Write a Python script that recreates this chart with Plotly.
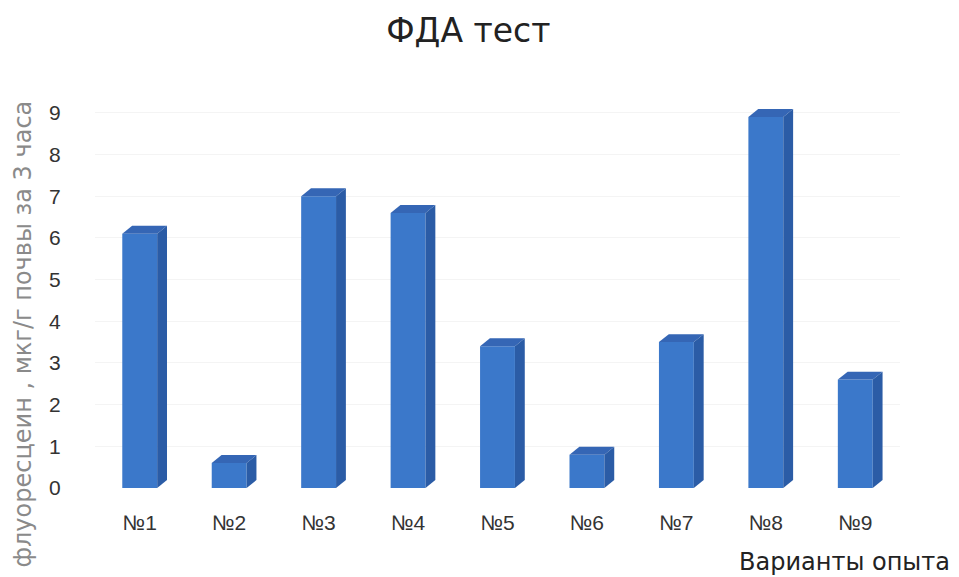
import plotly.graph_objects as go

categories = ["№1", "№2", "№3", "№4", "№5", "№6", "№7", "№8", "№9"]
values = [6.1, 0.6, 7.0, 6.6, 3.4, 0.8, 3.5, 8.9, 2.6]
y_ticks = [0, 1, 2, 3, 4, 5, 6, 7, 8, 9]

FRONT = "#3B78CA"
SIDE = "#2B5CA6"
TOP = "#3566B5"
BAR_W = 0.39
DX = 0.11   # depth offset in category units
DY = 0.19   # depth offset in value units

fig = go.Figure()
fig.add_trace(go.Bar(
    x=categories, y=values, width=BAR_W,
    marker=dict(color=FRONT, line=dict(width=0)),
    hoverinfo="x+y", showlegend=False,
))

shapes = []
for i, v in enumerate(values):
    x0 = i - BAR_W / 2
    x1 = i + BAR_W / 2
    shapes.append(dict(
        type="path", xref="x", yref="y", layer="above",
        path=f"M {x0},{v} L {x1},{v} L {x1+DX},{v+DY} L {x0+DX},{v+DY} Z",
        fillcolor=TOP, line=dict(width=0),
    ))
    shapes.append(dict(
        type="path", xref="x", yref="y", layer="above",
        path=f"M {x1},0 L {x1},{v} L {x1+DX},{v+DY} L {x1+DX},{DY} Z",
        fillcolor=SIDE, line=dict(width=0),
    ))

fig.update_layout(
    width=951, height=569,
    margin=dict(l=87, r=59, t=84, b=89),
    paper_bgcolor="white", plot_bgcolor="white",
    font=dict(family="Liberation Sans, Arial, sans-serif", color="#333333"),
    title=dict(text="ФДА тест", x=0.484, xanchor="center", y=0.961, yanchor="middle",
               font=dict(family="DejaVu Sans, sans-serif", size=33, color="#222222")),
    shapes=shapes,
    bargap=0.6,
    xaxis=dict(
        type="category", range=[-0.5, 8.5],
        showgrid=False, zeroline=False, showline=False,
        ticks="outside", ticklen=16, tickcolor="rgba(0,0,0,0)",
        tickfont=dict(size=21, color="#333333"),
    ),
    yaxis=dict(
        range=[0, 9.5], tickvals=y_ticks,
        showgrid=True, gridcolor="#F4F4F4", gridwidth=1,
        zeroline=False, showline=False,
        ticks="outside", ticklen=29, tickcolor="rgba(0,0,0,0)",
        tickfont=dict(size=21, color="#333333"),
    ),
    annotations=[
        dict(text="флуоресцеин , мкг/г почвы за 3 часа", xref="paper", yref="paper",
             x=-0.0895, y=0.39, textangle=-90, showarrow=False,
             xanchor="center", yanchor="middle",
             font=dict(family="DejaVu Sans, sans-serif", size=24, color="#8A8A8A")),
        dict(text="Варианты опыта", xref="paper", yref="paper",
             x=1.065, y=-0.187, showarrow=False, xanchor="right", yanchor="middle",
             font=dict(family="DejaVu Sans, sans-serif", size=24, color="#222222")),
    ],
)

fig.write_html("out.html")
